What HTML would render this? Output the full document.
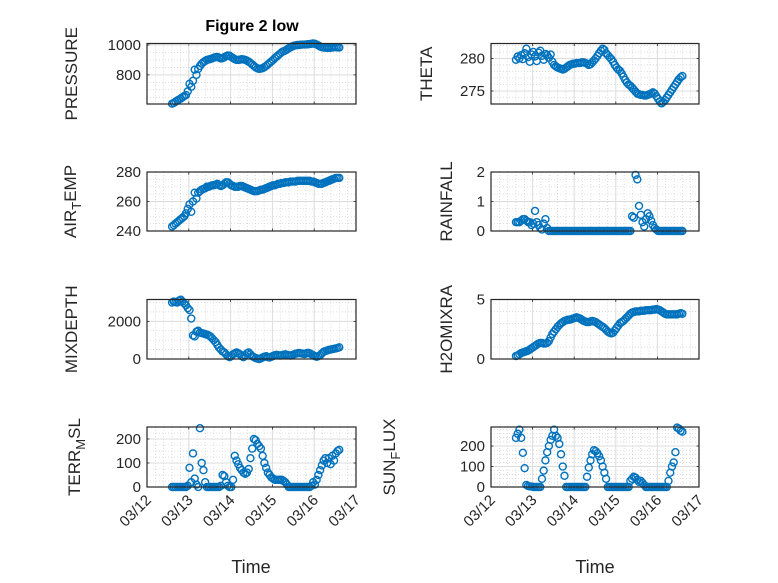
<!DOCTYPE html>
<html><head><meta charset="utf-8"><style>
html,body{margin:0;padding:0;background:#fff;}
svg{display:block;font-family:"Liberation Sans","DejaVu Sans",sans-serif;}
</style></head><body>
<svg id="fig" width="778" height="583" viewBox="0 0 778 583" xmlns="http://www.w3.org/2000/svg">
<rect x="0" y="0" width="778" height="583" fill="#fff"/>
<text x="252" y="31" text-anchor="middle" font-size="16" font-weight="bold" fill="#000">Figure 2 low</text>
<text x="251" y="573" text-anchor="middle" font-size="18" fill="#262626">Time</text>
<text x="595" y="573" text-anchor="middle" font-size="18" fill="#262626">Time</text>
</svg>
<script>
const dateTicks = ["03/12","03/13","03/14","03/15","03/16","03/17"];
const tStart = 0.6;
const pressure = [607,612,620,628,635,642,650,658,665, 690,740,720,760,835,800, 840,860,875,885,893,900, 903,906,910,915,918,920,915,910,912,918,925,930,928, 920,912,905,900,900,902,905,903,900,895,888,880,870,860,850,843,840,842,845, 852,860,870,880,890,900,912,922,932,942,952,958,963,970,978,985,990,995,998,1000, 1000,1002,1003,1003,1004,1005,1006,1008,1010,1008,1003,997,990,985,983,982, 980,980,981,983,985,985,984,983];
const airTemp = [243,244,245,246,247,248,249,250,252, 255,258,253,260,266,262, 266,267,268,268.5,269,270, 270,270.5,271,271,271.5,272,271,270.5,271,272,273,273,272, 271,270.5,270,270,270,270.5,270.5,270,269.5,269,268.5,268,267.5,267,267,267,267.5,268,268, 268.5,269,269.5,270,270.5,271,271,271.5,272,272,272.5,272.5,273,273,273,273.5,273.5,273.5,273.5,274, 274,274,274,274,274,274,274,273.5,273.5,273,272.5,272,272,272,272.5,273, 273.5,274,274.5,275,275.5,276,276,276];
const mixDepth = [3000,3050,3020,3000,3100,3150,3050,2950,2850, 2700,2600,2150,1250,1200,1450, 1500,1400,1380,1350,1320,1300, 1250,1200,1100,1000,900,750,600,500,400,350,250,150,100, 150,250,300,350,300,250,150,100,200,300,350,250,150,100,50,20,0,30,80, 120,150,100,80,120,160,200,220,200,180,200,230,250,220,200,180,200,250,280,300, 320,300,280,260,300,330,300,250,200,150,120,150,200,300,380,420, 450,480,500,520,540,560,580,620];
const terrMsl = [0,0,0,0,0,0,0,0,0, 5,80,20,140,35,10, 0,245,100,70,20,0, 0,0,0,0,0,0,0,5,50,45,20,5,0, 0,30,130,110,95,80,70,60,55,60,75,120,160,200,195,180,170,160,130, 100,80,60,50,40,35,30,30,30,30,30,25,20,10,0,0,0,0,0,0, 0,0,0,0,0,0,0,5,20,10,30,50,70,90,110,120, 100,120,95,130,110,140,150,155];
const theta = [279.8,280.3,280.0,280.5,279.9,280.8,281.5,280.2,279.5,280.6,281.0,280.3,279.6,280.9,281.2,280.4,279.8,280.7,280.5,280.1,280.6, 279.5,279.0,278.8,278.6,278.5,278.4,278.3,278.4,278.6,278.8,279.0,279.1,279.2, 279.2,279.3,279.3,279.3,279.4,279.4,279.3,279.2,279.0,279.1,279.4,279.7,280.0,280.4,280.8,281.2,281.5,281.3,280.8, 280.5,280.2,279.9,279.5,279.0,278.6,278.3,278.1,277.7,277.2,276.7,276.3,276.0,275.8,275.5,275.2,274.9,274.6,274.5,274.4, 274.4,274.3,274.3,274.4,274.5,274.6,274.8,274.6,274.2,273.8,273.4,273.1,273.3,273.6,274.0,274.4, 274.8,275.2,275.6,276.0,276.4,276.8,277.1,277.3];
const rainfall = [0.3,0.3,0.3,0.35,0.4,0.4,0.35,0.3,0.3,0.2,0.25,0.68,0.3,0.2,0.1,0.05,0.25,0.4,0.1,0,0, 0,0,0,0,0,0,0,0,0,0,0,0,0,0,0,0,0,0,0,0,0,0,0,0,0,0,0,0,0,0,0,0, 0,0,0,0,0,0,0,0,0,0,0,0,0,0, 0.5,0.45,1.9,1.75,0.85,0.55,0.3,0.15,0.4,0.6,0.5,0.35,0.2,0.1,0.05, 0,0,0,0,0,0,0,0,0,0,0,0,0,0,0];
const h2oMix = [0.25,0.3,0.4,0.5,0.55,0.6,0.65,0.7,0.8, 0.9,1.0,1.1,1.2,1.3,1.35, 1.35,1.3,1.3,1.35,1.5,1.8, 2.1,2.3,2.5,2.7,2.85,3.0,3.1,3.2,3.25,3.3,3.3,3.35,3.4, 3.45,3.5,3.45,3.4,3.3,3.2,3.15,3.1,3.1,3.15,3.2,3.15,3.1,3.0,2.9,2.8,2.7,2.6,2.45, 2.3,2.2,2.15,2.2,2.4,2.6,2.8,3.0,3.1,3.2,3.35,3.5,3.65,3.8,3.9,3.95,4.0,4.0,4.0,4.05, 4.05,4.05,4.1,4.1,4.1,4.1,4.15,4.15,4.2,4.15,4.1,4.0,3.9,3.8,3.75,3.75, 3.75,3.75,3.75,3.75,3.75,3.8,3.85,3.8];
const sunFlux = [240,260,280,240,167,92,10, 5,3,2,0,0,0,0,0, 40,80,130,170,200,230,250,280,250,240,210,160,100,55, 0,0,0,0,0,0,0,0,0,0,0,0, 50,95,130,160,180,175,165,150,130,100,70,40, 0,0,0,0,0,0,0,0,0,0,0,0,0, 30,40,50,45,35,25,30,20,10, 0,0,0,0,0,0,0,0,0,0,0,0,0, 30,70,100,120,170,290,285,275,270];

const svg = document.getElementById('fig');
const NS = 'http://www.w3.org/2000/svg';
function mk(tag, attrs, parent){
  const e = document.createElementNS(NS, tag);
  for (const k in attrs) e.setAttribute(k, attrs[k]);
  (parent||svg).appendChild(e);
  return e;
}
const panels = [
  {key:'pressure', data:pressure, x0:147, x1:356, y0:43.5, y1:104, ymin:605, ymax:1010, ticks:[800,1000], minor:50, label:[['PRESSURE','']], lx:77},
  {key:'air-temp', data:airTemp, x0:147, x1:356, y0:172, y1:231, ymin:240, ymax:280, ticks:[240,260,280], minor:5, label:[['AIR',''],['T','sub'],['EMP','']], lx:76},
  {key:'mixdepth', data:mixDepth, x0:147, x1:356, y0:299.5, y1:359, ymin:0, ymax:3160, ticks:[0,2000], minor:500, label:[['MIXDEPTH','']], lx:77},
  {key:'terr-msl', data:terrMsl, x0:147, x1:356, y0:427, y1:487, ymin:0, ymax:250, ticks:[0,100,200], minor:25, label:[['TERR',''],['M','sub'],['SL','']], lx:80, xt:true},
  {key:'theta', data:theta, x0:491, x1:699, y0:43.5, y1:104, ymin:273, ymax:282.3, ticks:[275,280], minor:1, label:[['THETA','']], lx:432},
  {key:'rainfall', data:rainfall, x0:491, x1:699, y0:172, y1:231, ymin:0, ymax:2, ticks:[0,1,2], minor:0.25, label:[['RAINFALL','']], lx:452},
  {key:'h2omixra', data:h2oMix, x0:491, x1:699, y0:299.5, y1:359, ymin:0, ymax:5, ticks:[0,5], minor:1, label:[['H2OMIXRA','']], lx:452},
  {key:'sun-flux', data:sunFlux, x0:491, x1:699, y0:427, y1:487, ymin:0, ymax:293, ticks:[0,100,200], minor:20, label:[['SUN',''],['F','sub'],['LUX','']], lx:395, xt:true}
];
panels.forEach(p=>{
  const g = mk('g', {});
  
  
  const xs = t => p.x0 + (p.x1-p.x0)*t/5;
  const ys = v => p.y1 - (p.y1-p.y0)*(v-p.ymin)/(p.ymax-p.ymin);
  for (let i=0;i<25;i++){ const x = xs(i*0.2); if (i%5) mk('line',{x1:x,x2:x,y1:p.y0,y2:p.y1,stroke:'#c8c8c8','stroke-width':0.6,'stroke-dasharray':'1,2'},g); }
  for (let v=Math.ceil(p.ymin/p.minor)*p.minor; v<=p.ymax; v+=p.minor){
    if (p.ticks.some(t=>Math.abs(t-v)<1e-9)) continue;
    const y = ys(v);
    mk('line',{x1:p.x0,x2:p.x1,y1:y,y2:y,stroke:'#c8c8c8','stroke-width':0.6,'stroke-dasharray':'1,2'},g);
  }
  dateTicks.forEach((d,i)=>{
    const x = xs(i);
    mk('line',{x1:x,x2:x,y1:p.y0,y2:p.y1,stroke:'#dcdcdc','stroke-width':1},g);
    mk('line',{x1:x,x2:x,y1:p.y1,y2:p.y1-2.5,stroke:'#262626','stroke-width':0.8},g);
    mk('line',{x1:x,x2:x,y1:p.y0,y2:p.y0+2.5,stroke:'#262626','stroke-width':0.8},g);
    if (p.xt){
      const tx = mk('text',{x:x+5,y:p.y1+14,'text-anchor':'end','font-size':15,fill:'#262626',transform:`rotate(-45 ${x+5} ${p.y1+14})`},g);
      
      
      tx.textContent = d;
    }
  });
  p.ticks.forEach(v=>{
    const y = ys(v);
    mk('line',{x1:p.x0,x2:p.x1,y1:y,y2:y,stroke:'#dcdcdc','stroke-width':1},g);
    mk('line',{x1:p.x0,x2:p.x0+2.5,y1:y,y2:y,stroke:'#262626','stroke-width':0.8},g);
    mk('line',{x1:p.x1,x2:p.x1-2.5,y1:y,y2:y,stroke:'#262626','stroke-width':0.8},g);
    const tl = mk('text',{x:p.x0-6,y:y+5,'text-anchor':'end','font-size':15,fill:'#262626'},g);
    
    
    tl.textContent = String(v);
  });
  const dg = mk('g',{fill:'none',stroke:'#0072BD','stroke-width':1.4},g);
  
  
  p.data.forEach((v,i)=>{
    const c = mk('circle',{cx:xs(tStart+i/24).toFixed(2),cy:ys(v).toFixed(2),r:3.5},dg);
    
    
  });
  mk('rect',{x:p.x0,y:p.y0,width:p.x1-p.x0,height:p.y1-p.y0,fill:'none',stroke:'#262626','stroke-width':1.2},g);
  const cy = (p.y0+p.y1)/2;
  const lab = mk('text',{x:p.lx,y:cy,'text-anchor':'middle','font-size':17,fill:'#262626',transform:`rotate(-90 ${p.lx} ${cy})`},g);
  
  
  let shifted = false;
  p.label.forEach(([s,kind])=>{
    const ts = document.createElementNS(NS,'tspan');
    if (kind==='sub'){ ts.setAttribute('dy','5'); ts.setAttribute('font-size','13'); shifted=true; }
    else if (shifted){ ts.setAttribute('dy','-5'); shifted=false; }
    ts.textContent = s;
    lab.appendChild(ts);
  });
});
</script>
</body></html>
